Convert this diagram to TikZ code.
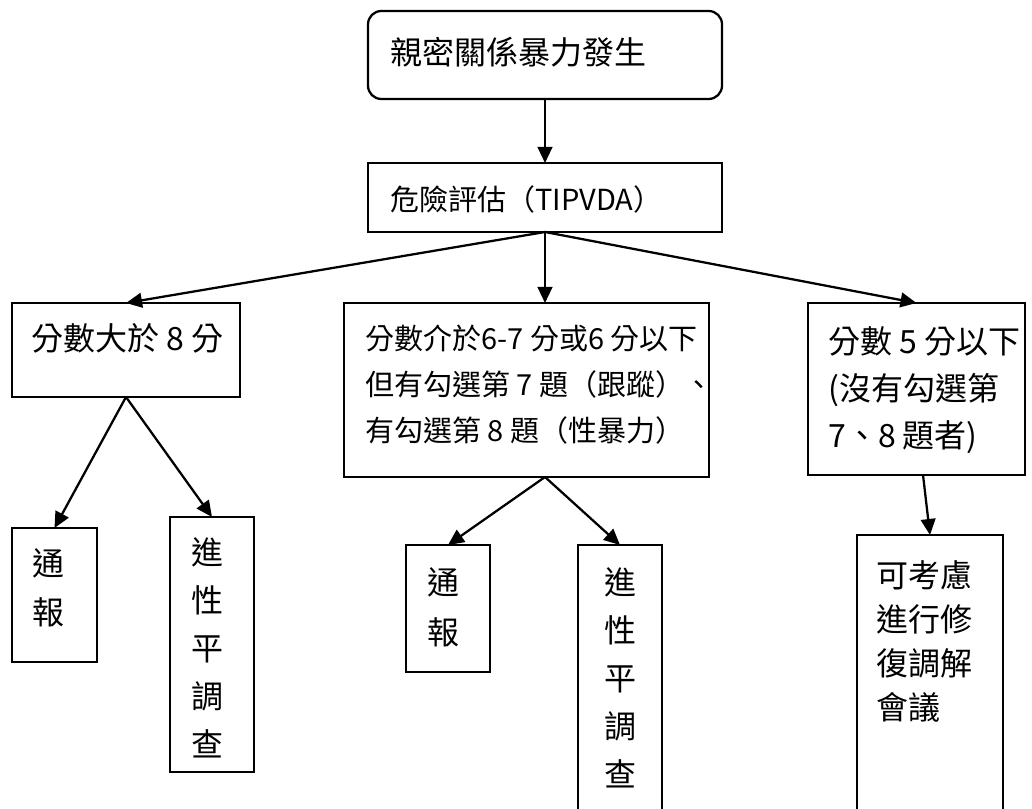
\documentclass[tikz,border=0pt]{standalone}
\usepackage{fontspec}
\setmainfont{Noto Sans CJK TC}
\usetikzlibrary{arrows.meta,calc}

\begin{document}
\begin{tikzpicture}[x=0.75pt, y=-0.75pt,
    box/.style={draw, line width=1.7pt, anchor=north west, inner sep=0pt, outer sep=0pt},
    flow/.style={line width=1.7pt, -{Triangle[length=12pt,width=11pt]}},
    txt/.style={inner sep=0pt, anchor=base west, align=left},
    col/.style={inner sep=0pt, anchor=base, align=center}]
  \useasboundingbox (0,0) rectangle (1032,809);

  % boxes
  \node [box, rounded corners=10pt, minimum width=265.5pt, minimum height=66pt] (event) at (368,11) {};
  \node [box, minimum width=265.5pt, minimum height=51.75pt] (assess) at (368,163) {};
  \node [box, minimum width=171pt, minimum height=70.5pt] (high) at (12,303) {};
  \node [box, minimum width=273.75pt, minimum height=130.5pt] (mid) at (344,303) {};
  \node [box, minimum width=162.75pt, minimum height=129pt] (low) at (808,303) {};
  \node [box, minimum width=63.75pt, minimum height=100.5pt] (highreport) at (12,528) {};
  \node [box, minimum width=63pt, minimum height=191.25pt] (highinvest) at (170,517) {};
  \node [box, minimum width=63pt, minimum height=95.25pt] (midreport) at (406,545) {};
  \node [box, minimum width=63pt, minimum height=225pt] (midinvest) at (578,545) {};
  \node [box, minimum width=109.5pt, minimum height=225pt] (repair) at (857,535) {};

  % texts (base = baseline of the last line)
  \node [txt, font=\fontsize{24}{36}\selectfont] (eventtext) at (390,65) {親密關係暴力發生};
  \node [txt, font=\fontsize{21.75}{33}\selectfont] (assesstext) at (390,211) {危險評估（TIPVDA）};
  \node [txt, font=\fontsize{24}{36}\selectfont] (hightext) at (31,350) {分數大於 8 分};
  \node [txt, font=\fontsize{21.75}{34.5}\selectfont] (midtext) at (365,441)
    {分數介於6-7 分或6 分以下\\但有勾選第 7 題（跟蹤）、\\有勾選第 8 題（性暴力）};
  \node [txt, font=\fontsize{24}{35.25}\selectfont] (lowtext) at (828,447)
    {分數 5 分以下\\(沒有勾選第\\7、8 題者)};
  \node [col, font=\fontsize{24}{36.75}\selectfont] (highreporttext) at (48,624) {通\\報};
  \node [col, font=\fontsize{24}{36}\selectfont] (highinvesttext) at (207,756) {進\\性\\平\\調\\查};
  \node [col, font=\fontsize{24}{37.5}\selectfont] (midreporttext) at (443,644) {通\\報};
  \node [col, font=\fontsize{24}{36}\selectfont] (midinvesttext) at (620,786) {進\\性\\平\\調\\查};
  \node [txt, font=\fontsize{24}{33}\selectfont] (repairtext) at (876,719) {可考慮\\進行修\\復調解\\會議};

  % connectors
  \coordinate (midfork) at (assess.south |- mid.south);
  \coordinate (lowfork) at ($(low.south west)!0.53!(low.south east)$);
  \draw [flow] (event) -- (assess);
  \draw [flow] (assess.south) -- (high.north);
  \draw [flow] (assess.south) -- (assess.south |- mid.north);
  \draw [flow] (assess.south) -- (low.north);
  \draw [flow] (high.south) -- (highreport.north);
  \draw [flow] (high.south) -- (highinvest.north);
  \draw [flow] (midfork) -- (midreport.north);
  \draw [flow] (midfork) -- (midinvest.north);
  \draw [flow] (lowfork) -- (repair.north);
\end{tikzpicture}
\end{document}
